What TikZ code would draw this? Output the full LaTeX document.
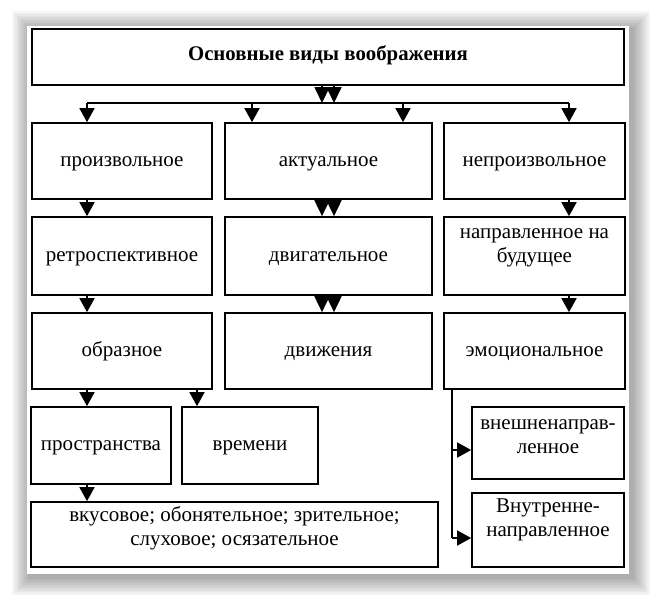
\documentclass[tikz,border=0pt]{standalone}
\usepackage{fontspec}
\setmainfont{Liberation Serif}
\usetikzlibrary{arrows.meta}

\begin{document}
\begin{tikzpicture}[x=0.5pt,y=-0.5pt,line width=0.85pt,
  font=\fontsize{10.5}{12}\selectfont,
  box/.style={draw,fill=white,align=center,inner sep=1pt,text height=7.5pt,text depth=2.5pt},
  two/.style={text height=,text depth=#1},
  arr/.style={-{Triangle[length=7pt,width=7.5pt]}},
  dbl/.style={-{Triangle[length=8pt,width=7.5pt]}}]
\useasboundingbox (0,0) rectangle (656,602);
% sheet with soft shadow
\foreach \s in {1,...,12}
  \fill[black,opacity=0.03] (30-\s*1.5,29-\s*1.5) rectangle (632+\s*1.5,577+\s*1.5);
\fill[white] (27,26) rectangle (629,574);

\node[box,minimum width=296pt,minimum height=28pt,text depth=4.5pt,font=\fontsize{10.4}{12}\selectfont\bfseries] (title) at (328,57) {Основные виды воображения};

\node[box,minimum width=90pt,minimum height=38pt] (arb) at (122,161) {произвольное};
\node[box,minimum width=103.5pt,minimum height=38pt] (act) at (328.5,161) {актуальное};
\node[box,minimum width=90.5pt,minimum height=38pt] (inv) at (534.5,161) {непроизвольное};

\node[box,minimum width=90pt,minimum height=39pt] (retro) at (122,256) {ретроспективное};
\node[box,minimum width=103.5pt,minimum height=39pt] (motor) at (328.5,256) {двигательное};
\node[box,two=10.3pt,minimum width=90.5pt,minimum height=39pt] (future) at (534.5,256) {направленное на\\будущее};

\node[box,minimum width=90pt,minimum height=38pt] (image) at (122,351) {образное};
\node[box,minimum width=103.5pt,minimum height=38pt] (move) at (328.5,351) {движения};
\node[box,minimum width=90.5pt,minimum height=38pt] (emo) at (534.5,351) {эмоциональное};

\node[box,minimum width=70pt,minimum height=38.5pt] (space) at (101,445.5) {пространства};
\node[box,minimum width=68pt,minimum height=38.5pt] (time) at (250,445.5) {времени};
\node[box,two=8.8pt,minimum width=203.5pt,minimum height=32.5pt] (senses) at (234.5,534.5) {вкусовое; обонятельное; зрительное;\\слуховое; осязательное};

\node[box,two=6pt,minimum width=76pt,minimum height=36pt] (outer) at (548,443) {внешненаправ-\\ленное};
\node[box,two=12pt,minimum width=76pt,minimum height=37pt] (inner) at (548,530) {Внутренне-\\направленное};

% bus under the title
\coordinate (bl) at (87,103);
\coordinate (al) at (252,103);
\coordinate (dl) at (322,103);
\coordinate (dr) at (334,103);
\coordinate (ar) at (403,103);
\coordinate (br) at (569,103);
\draw (bl) -- (br);
\draw[dbl] (title.south -| dl) -- (dl);
\draw[dbl] (title.south -| dr) -- (dr);
\foreach \c/\n in {bl/arb,al/act,ar/act,br/inv}
  \draw[arr] (\c) -- (\c |- \n.north);

% left column
\coordinate (tk) at (197,445.5);
\draw[arr] (arb.south -| bl) -- (retro.north -| bl);
\draw[arr] (retro.south -| bl) -- (image.north -| bl);
\draw[arr] (image.south -| bl) -- (space.north -| bl);
\draw[arr] (image.south -| tk) -- (time.north -| tk);
\draw[arr] (space.south -| bl) -- (senses.north -| bl);

% middle column
\foreach \c in {dl,dr} {
  \draw[dbl] (act.south -| \c) -- (motor.north -| \c);
  \draw[dbl] (motor.south -| \c) -- (move.north -| \c);
}

% right column
\draw[arr] (inv.south -| br) -- (future.north -| br);
\draw[arr] (future.south -| br) -- (emo.north -| br);
\coordinate (eo) at (452,450);
\coordinate (ei) at (452,538);
\draw (emo.south -| eo) -- (ei);
\draw[arr] (eo) -- (outer.west |- eo);
\draw[arr] (ei) -- (inner.west |- ei);
\end{tikzpicture}
\end{document}
